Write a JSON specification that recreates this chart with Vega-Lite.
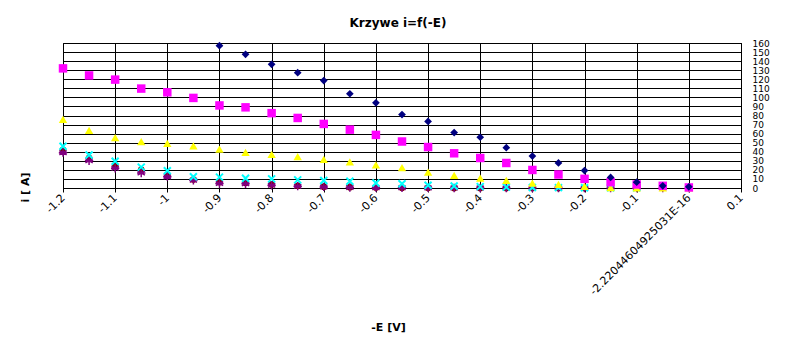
{
  "$schema": "https://vega.github.io/schema/vega-lite/v6.json",
  "width": 678,
  "height": 145,
  "autosize": {"type": "none"},
  "padding": {"left": 63, "top": 43, "right": 56, "bottom": 166},
  "background": "white",
  "config": {
    "view": {"stroke": "black", "strokeWidth": 1},
    "font": "DejaVu Sans",
    "title": {"font": "DejaVu Sans", "fontSize": 12, "fontWeight": "bold", "color": "black"}
  },
  "title": {"text": "Krzywe i=f(-E)", "anchor": "middle", "offset": 9, "dx": -4},
  "datasets": {
    "pts": [
      {"s": "s6", "E": -1.2, "i": 42}, {"s": "s6", "E": -1.15, "i": 33}, {"s": "s6", "E": -1.1, "i": 24.6}, {"s": "s6", "E": -1.05, "i": 19.9}, {"s": "s6", "E": -1.0, "i": 14.3}, {"s": "s6", "E": -0.95, "i": 9.4}, {"s": "s6", "E": -0.9, "i": 6.4}, {"s": "s6", "E": -0.85, "i": 5.7}, {"s": "s6", "E": -0.8, "i": 3.9}, {"s": "s6", "E": -0.75, "i": 2.5}, {"s": "s6", "E": -0.7, "i": 1.5}, {"s": "s6", "E": -0.65, "i": 0.9}, {"s": "s6", "E": -0.6, "i": 0.5}, {"s": "s6", "E": -0.55, "i": 0.3}, {"s": "s6", "E": -0.5, "i": 0.2}, {"s": "s6", "E": -0.45, "i": 0.1}, {"s": "s6", "E": -0.4, "i": 0.1}, {"s": "s6", "E": -0.35, "i": 0}, {"s": "s6", "E": -0.3, "i": 0}, {"s": "s6", "E": -0.25, "i": 0}, {"s": "s6", "E": -0.2, "i": 0},
      {"s": "s5", "E": -1.2, "i": 39}, {"s": "s5", "E": -1.15, "i": 30}, {"s": "s5", "E": -1.1, "i": 21.7}, {"s": "s5", "E": -1.05, "i": 16.5}, {"s": "s5", "E": -1.0, "i": 12.5}, {"s": "s5", "E": -0.95, "i": 8.5}, {"s": "s5", "E": -0.9, "i": 5}, {"s": "s5", "E": -0.85, "i": 4.6}, {"s": "s5", "E": -0.8, "i": 3}, {"s": "s5", "E": -0.75, "i": 2}, {"s": "s5", "E": -0.7, "i": 1.2}, {"s": "s5", "E": -0.65, "i": 0.6}, {"s": "s5", "E": -0.6, "i": 0.4}, {"s": "s5", "E": -0.55, "i": 0.2}, {"s": "s5", "E": -0.5, "i": 0.1}, {"s": "s5", "E": -0.45, "i": 0}, {"s": "s5", "E": -0.4, "i": 0}, {"s": "s5", "E": -0.35, "i": 0}, {"s": "s5", "E": -0.3, "i": 0}, {"s": "s5", "E": -0.25, "i": 0}, {"s": "s5", "E": -0.2, "i": 0}, {"s": "s5", "E": -0.15, "i": 0}, {"s": "s5", "E": -0.1, "i": 0}, {"s": "s5", "E": -0.05, "i": 0}, {"s": "s5", "E": 0.0, "i": 0},
      {"s": "s4", "E": -1.2, "i": 46}, {"s": "s4", "E": -1.15, "i": 36.5}, {"s": "s4", "E": -1.1, "i": 29.5}, {"s": "s4", "E": -1.05, "i": 23}, {"s": "s4", "E": -1.0, "i": 19}, {"s": "s4", "E": -0.95, "i": 12.5}, {"s": "s4", "E": -0.9, "i": 12}, {"s": "s4", "E": -0.85, "i": 10.8}, {"s": "s4", "E": -0.8, "i": 10.1}, {"s": "s4", "E": -0.75, "i": 9}, {"s": "s4", "E": -0.7, "i": 8.3}, {"s": "s4", "E": -0.65, "i": 7.5}, {"s": "s4", "E": -0.6, "i": 5.5}, {"s": "s4", "E": -0.55, "i": 4.6}, {"s": "s4", "E": -0.5, "i": 3}, {"s": "s4", "E": -0.45, "i": 2.2}, {"s": "s4", "E": -0.4, "i": 1.5}, {"s": "s4", "E": -0.35, "i": 1}, {"s": "s4", "E": -0.3, "i": 0.6}, {"s": "s4", "E": -0.25, "i": 0.4}, {"s": "s4", "E": -0.2, "i": 0.3}, {"s": "s4", "E": -0.15, "i": 0.2}, {"s": "s4", "E": -0.1, "i": 0.1},
      {"s": "s3", "E": -1.2, "i": 75.8}, {"s": "s3", "E": -1.15, "i": 63.5}, {"s": "s3", "E": -1.1, "i": 55.5}, {"s": "s3", "E": -1.05, "i": 51.1}, {"s": "s3", "E": -1.0, "i": 49.3}, {"s": "s3", "E": -0.95, "i": 46.4}, {"s": "s3", "E": -0.9, "i": 43}, {"s": "s3", "E": -0.85, "i": 39.4}, {"s": "s3", "E": -0.8, "i": 37.2}, {"s": "s3", "E": -0.75, "i": 34.5}, {"s": "s3", "E": -0.7, "i": 31.5}, {"s": "s3", "E": -0.65, "i": 28.7}, {"s": "s3", "E": -0.6, "i": 25.4}, {"s": "s3", "E": -0.55, "i": 22.4}, {"s": "s3", "E": -0.5, "i": 17.4}, {"s": "s3", "E": -0.45, "i": 14}, {"s": "s3", "E": -0.4, "i": 11}, {"s": "s3", "E": -0.35, "i": 8.3}, {"s": "s3", "E": -0.3, "i": 5.3}, {"s": "s3", "E": -0.25, "i": 3.9}, {"s": "s3", "E": -0.2, "i": 1.7}, {"s": "s3", "E": -0.15, "i": 0.5}, {"s": "s3", "E": -0.1, "i": 0.2}, {"s": "s3", "E": -0.05, "i": 0}, {"s": "s3", "E": 0.0, "i": 0},
      {"s": "s2", "E": -1.2, "i": 132}, {"s": "s2", "E": -1.15, "i": 124.2}, {"s": "s2", "E": -1.1, "i": 119.6}, {"s": "s2", "E": -1.05, "i": 109.7}, {"s": "s2", "E": -1.0, "i": 105.6}, {"s": "s2", "E": -0.95, "i": 99.4}, {"s": "s2", "E": -0.9, "i": 91.1}, {"s": "s2", "E": -0.85, "i": 89}, {"s": "s2", "E": -0.8, "i": 82.6}, {"s": "s2", "E": -0.75, "i": 77.3}, {"s": "s2", "E": -0.7, "i": 70.7}, {"s": "s2", "E": -0.65, "i": 64.4}, {"s": "s2", "E": -0.6, "i": 58.6}, {"s": "s2", "E": -0.55, "i": 51.3}, {"s": "s2", "E": -0.5, "i": 45.2}, {"s": "s2", "E": -0.45, "i": 38.3}, {"s": "s2", "E": -0.4, "i": 33.1}, {"s": "s2", "E": -0.35, "i": 27.6}, {"s": "s2", "E": -0.3, "i": 19.9}, {"s": "s2", "E": -0.25, "i": 14.9}, {"s": "s2", "E": -0.2, "i": 10.1}, {"s": "s2", "E": -0.15, "i": 6.4}, {"s": "s2", "E": -0.1, "i": 3.9}, {"s": "s2", "E": -0.05, "i": 2.4}, {"s": "s2", "E": 0.0, "i": 0.6},
      {"s": "s1", "E": -0.9, "i": 157}, {"s": "s1", "E": -0.85, "i": 147.5}, {"s": "s1", "E": -0.8, "i": 136.5}, {"s": "s1", "E": -0.75, "i": 127.3}, {"s": "s1", "E": -0.7, "i": 118.5}, {"s": "s1", "E": -0.65, "i": 104}, {"s": "s1", "E": -0.6, "i": 94}, {"s": "s1", "E": -0.55, "i": 81}, {"s": "s1", "E": -0.5, "i": 73.4}, {"s": "s1", "E": -0.45, "i": 61.2}, {"s": "s1", "E": -0.4, "i": 56}, {"s": "s1", "E": -0.35, "i": 44.5}, {"s": "s1", "E": -0.3, "i": 35.3}, {"s": "s1", "E": -0.25, "i": 27.6}, {"s": "s1", "E": -0.2, "i": 19.3}, {"s": "s1", "E": -0.15, "i": 11.6}, {"s": "s1", "E": -0.1, "i": 6.4}, {"s": "s1", "E": -0.05, "i": 2.4}, {"s": "s1", "E": 0.0, "i": 1.3}
    ]
  },
  "data": {"name": "pts"},
  "encoding": {
    "x": {
      "field": "E", "type": "quantitative",
      "scale": {"domain": [-1.2, 0.1], "nice": false, "zero": false},
      "axis": {
        "values": [-1.2, -1.1, -1, -0.9, -0.8, -0.7, -0.6, -0.5, -0.4, -0.3, -0.2, -0.1, 0, 0.1],
        "labelExpr": "datum.value == 0 ? '-2.22044604925031E-16' : toString(datum.value)",
        "grid": true, "gridColor": "black", "gridOpacity": 1, "gridWidth": 1,
        "domainColor": "black", "tickColor": "black", "tickSize": 4,
        "labelAngle": -45, "labelAlign": "right", "labelBaseline": "middle",
        "labelFontSize": 11, "labelColor": "black", "labelPadding": 4, "labelOverlap": false, "labelBound": false, "labelFlush": false,
        "title": "-E [V]", "titleFontSize": 11, "titleFontWeight": "bold", "titleColor": "black",
        "titleX": 325, "titleY": 139, "titleAlign": "center", "titleBaseline": "middle", "titleAngle": 0
      }
    },
    "y": {
      "field": "i", "type": "quantitative",
      "scale": {"domain": [0, 160], "nice": false},
      "axis": {
        "orient": "right",
        "values": [0, 10, 20, 30, 40, 50, 60, 70, 80, 90, 100, 110, 120, 130, 140, 150, 160],
        "grid": true, "gridColor": "black", "gridOpacity": 1, "gridWidth": 1,
        "domainColor": "black", "ticks": false,
        "labelFontSize": 9, "labelColor": "black", "labelPadding": 11, "labelOverlap": false, "labelBaseline": "middle", "labelFlush": false,
        "title": "i [ A]", "titleFontSize": 11, "titleFontWeight": "bold", "titleColor": "black",
        "titleX": -716, "titleY": 144, "titleAngle": 270, "titleAlign": "center", "titleBaseline": "middle"
      }
    },
    "color": {
      "field": "s", "type": "nominal",
      "scale": {"domain": ["s1", "s2", "s3", "s4", "s5", "s6"], "range": ["#000080", "#FF00FF", "#FFFF00", "#00FFFF", "#800080", "#800000"]},
      "legend": null
    }
  },
  "layer": [
    {
      "transform": [{"filter": "datum.s == 's6'"}],
      "mark": {"type": "point", "shape": "circle", "filled": true, "size": 45, "opacity": 1}
    },
    {
      "transform": [{"filter": "datum.s == 's5'"}],
      "mark": {"type": "point", "shape": "M0,-1L0,1M-0.87,-0.5L0.87,0.5M-0.87,0.5L0.87,-0.5M-1,0L1,0", "filled": false, "size": 70, "strokeWidth": 1.5, "opacity": 1}
    },
    {
      "transform": [{"filter": "datum.s == 's4'"}],
      "mark": {"type": "point", "shape": "M-1,-1L1,1M-1,1L1,-1", "filled": false, "size": 49, "strokeWidth": 2, "opacity": 1}
    },
    {
      "transform": [{"filter": "datum.s == 's3'"}],
      "mark": {"type": "point", "shape": "triangle-up", "filled": true, "size": 70, "opacity": 1}
    },
    {
      "transform": [{"filter": "datum.s == 's2'"}],
      "mark": {"type": "point", "shape": "square", "filled": true, "size": 72, "opacity": 1}
    },
    {
      "transform": [{"filter": "datum.s == 's1'"}],
      "mark": {"type": "point", "shape": "diamond", "filled": true, "size": 60, "opacity": 1}
    }
  ]
}
